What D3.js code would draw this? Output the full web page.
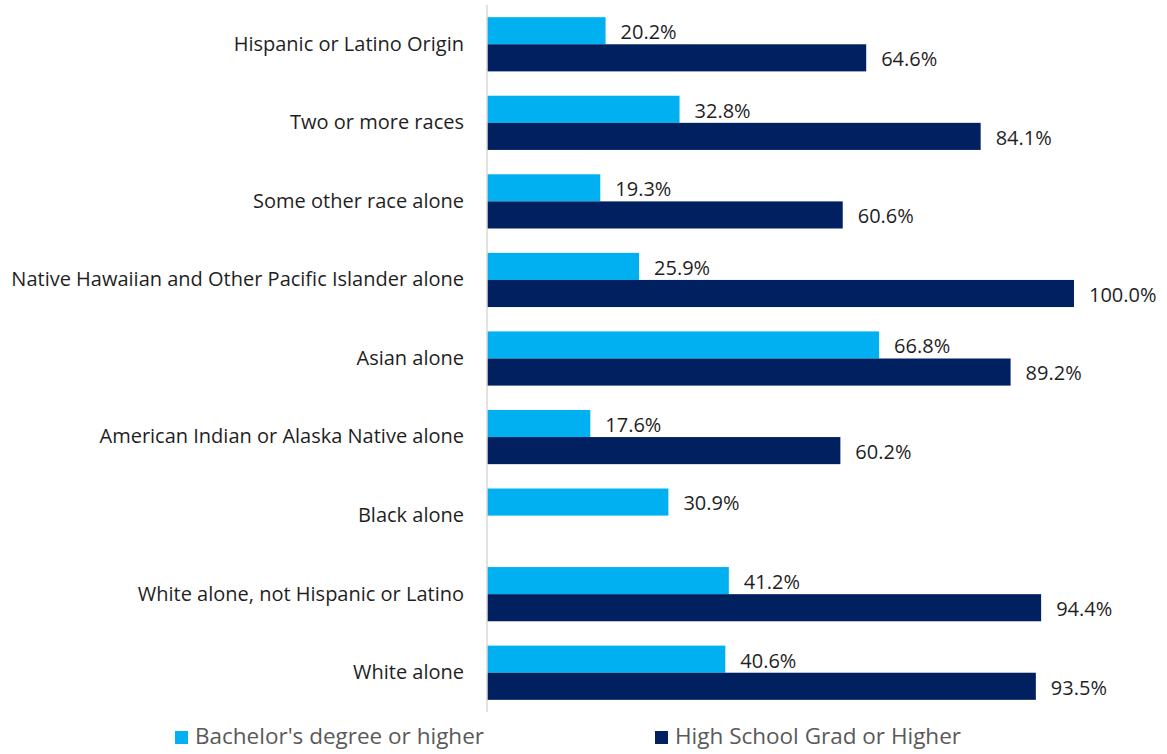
<!DOCTYPE html>
<html>
<head>
<meta charset="utf-8">
<script src="https://cdn.jsdelivr.net/npm/d3@7/dist/d3.min.js"></script>
<style>
  html, body { margin: 0; padding: 0; background: #fff; }
  svg { display: block; font-family: "Open Sans", "Noto Sans", sans-serif; }
</style>
</head>
<body>
<svg id="chart" width="1167" height="754"></svg>
<script>
// Educational attainment by race / ethnicity
const categories = [
  "Hispanic or Latino Origin",
  "Two or more races",
  "Some other race alone",
  "Native Hawaiian and Other Pacific Islander alone",
  "Asian alone",
  "American Indian or Alaska Native alone",
  "Black alone",
  "White alone, not Hispanic or Latino",
  "White alone"
];
const bachelors = [20.2, 32.8, 19.3, 25.9, 66.8, 17.6, 30.9, 41.2, 40.6];
const highSchool = [64.6, 84.1, 60.6, 100.0, 89.2, 60.2, null, 94.4, 93.5];
const seriesNames = ["Bachelor's degree or higher", "High School Grad or Higher"];
const seriesColors = ["#00B0F0", "#002060"];

const svg = d3.select("#chart");
const margin = { left: 487, right: 93, top: 5, bottom: 42 };
const W = 1167, H = 754;

const x = d3.scaleLinear().domain([0, 100]).range([margin.left, W - margin.right]);
const y = d3.scaleBand().domain(categories).range([margin.top, H - margin.bottom]).paddingInner(0.31).paddingOuter(0.155);
const sub = d3.scaleBand().domain([0, 1]).range([0, y.bandwidth()]);

const rows = categories.map((c, i) => ({ cat: c, vals: [bachelors[i], highSchool[i]] }));

const g = svg.append("g");
const row = g.selectAll("g.row").data(rows).join("g")
  .attr("class", "row")
  .attr("transform", d => `translate(0,${y(d.cat)})`);

row.each(function(d) {
  const sel = d3.select(this);
  d.vals.forEach((v, k) => {
    if (v == null) return;
    sel.append("rect")
      .attr("x", x(0))
      .attr("y", sub(k))
      .attr("width", x(v) - x(0))
      .attr("height", sub.bandwidth())
      .attr("fill", seriesColors[k]);
    sel.append("text")
      .attr("x", x(v) + 15)
      .attr("y", sub(k) + sub.bandwidth() / 2 + 3)
      .attr("dominant-baseline", "middle")
      .attr("font-size", 20)
      .attr("fill", "#1f1f1f")
      .text(v.toFixed(1) + "%");
  });
});

// Category axis
const axis = d3.axisLeft(y).tickSize(0).tickPadding(23);
const ax = svg.append("g").attr("transform", `translate(${x(0)},0)`).call(axis);
ax.select(".domain").attr("stroke", "#d9d9d9").attr("stroke-width", 1.5)
  .attr("d", `M0,${margin.top}V${H - margin.bottom}`);
ax.selectAll(".tick text")
  .attr("font-size", 20)
  .attr("font-family", "'Open Sans', 'Noto Sans', sans-serif")
  .attr("fill", "#1f1f1f");

// Legend
const legendX = [175, 655];
const legend = svg.append("g");
seriesNames.forEach((name, k) => {
  legend.append("rect")
    .attr("x", legendX[k]).attr("y", 731)
    .attr("width", 13).attr("height", 13)
    .attr("fill", seriesColors[k]);
  legend.append("text")
    .attr("x", legendX[k] + 20).attr("y", 738)
    .attr("dominant-baseline", "middle")
    .attr("font-size", 22.5)
    .attr("fill", "#595959")
    .text(name);
});
</script>
</body>
</html>
